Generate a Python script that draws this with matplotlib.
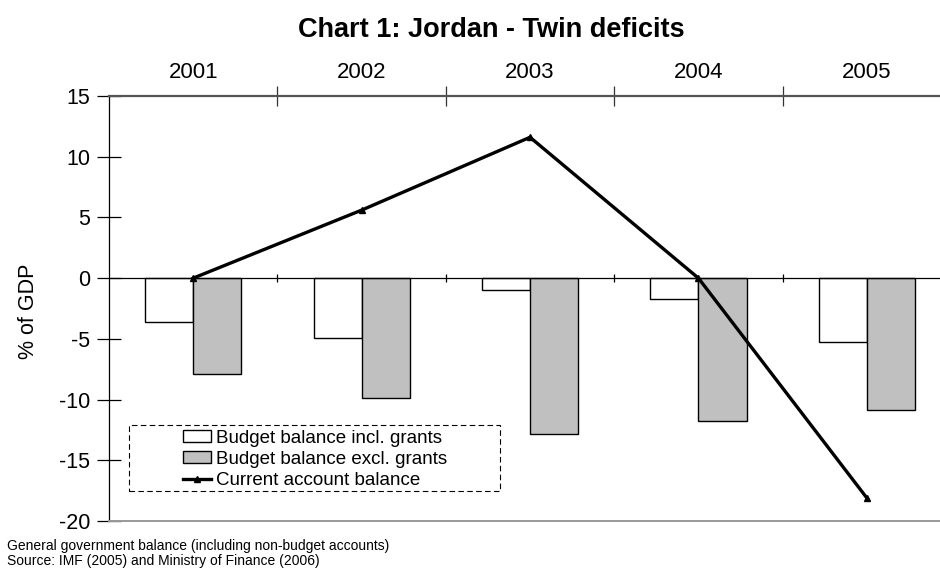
import matplotlib
matplotlib.use("Agg")
import matplotlib.pyplot as plt
import numpy as np
from matplotlib.patches import Rectangle, Patch
from matplotlib.lines import Line2D

plt.rcParams["font.family"] = ["Liberation Sans", "DejaVu Sans"]

years = ["2001", "2002", "2003", "2004", "2005"]
budget_incl = [-3.6, -4.9, -1.0, -1.7, -5.3]
budget_excl = [-7.9, -9.9, -12.8, -11.8, -10.9]
current_acc = [0.0, 5.6, 11.6, 0.0, -18.1]
y_ticks = [15, 10, 5, 0, -5, -10, -15, -20]

fig = plt.figure(figsize=(9.4, 5.69), dpi=100)
ax = fig.add_axes([0.116, 0.0844, 0.8957, 0.7469])

x = np.arange(len(years))
w = 0.2857
ax.bar(x - w / 2, budget_incl, w, color="white", edgecolor="black", linewidth=1.0, zorder=2)
ax.bar(x + w / 2, budget_excl, w, color="#c0c0c0", edgecolor="black", linewidth=1.0, zorder=2)
ax.axhline(0, color="black", linewidth=0.9, zorder=3)
# small tick marks on the zero line at category boundaries
ax.vlines(x[1:] - 0.5, -0.35, 0.35, color="black", linewidth=0.9, zorder=3)
ax.plot(x, current_acc, color="black", linewidth=2.4, marker="^", markersize=5, zorder=4)

ax.set_xlim(-0.5, len(years) - 0.5)
ax.set_ylim(-20, 15)
ax.set_yticks(y_ticks)
ax.set_yticklabels([str(v) for v in y_ticks], fontsize=15.5)
ax.tick_params(axis="y", direction="inout", length=17, width=0.9, pad=5)

ax.xaxis.tick_top()
ax.set_xticks(x[1:] - 0.5)
ax.set_xticklabels([])
ax.set_xticks(x, minor=True)
ax.set_xticklabels(years, minor=True, fontsize=16)
ax.tick_params(axis="x", which="major", direction="inout", length=15, width=0.9, colors="#333333")
ax.tick_params(axis="x", which="minor", length=0, pad=9)

ax.spines["right"].set_visible(False)
ax.spines["top"].set_color("#555555")
ax.spines["top"].set_linewidth(1.6)
ax.spines["bottom"].set_color("#999999")
ax.spines["bottom"].set_linewidth(1.4)
ax.spines["left"].set_color("black")
ax.spines["left"].set_linewidth(0.9)

# dashed legend frame
ax.add_patch(Rectangle((0.0238, 0.0706), 0.4406, 0.155, transform=ax.transAxes,
                       fill=False, linestyle=(0, (5, 3)), edgecolor="black", linewidth=0.8, zorder=5))
handles = [
    Patch(facecolor="white", edgecolor="black", linewidth=1.0),
    Patch(facecolor="#c0c0c0", edgecolor="black", linewidth=1.0),
    Line2D([0], [0], color="black", linewidth=2.4, marker="^", markersize=5),
]
labels = ["Budget balance incl. grants", "Budget balance excl. grants", "Current account balance"]
ax.legend(handles, labels, loc="center", bbox_to_anchor=(0.245, 0.145), frameon=False,
          fontsize=13.5, labelspacing=0.22, handlelength=1.5, handleheight=0.6, handletextpad=0.25,
          borderpad=0.1)

fig.text(0.523, 0.948, "Chart 1: Jordan - Twin deficits", fontsize=19.5, fontweight="bold",
         ha="center", va="center")
fig.text(0.030, 0.453, "% of GDP", fontsize=15.5, rotation=90, ha="center", va="center")
fig.text(0.007, 0.040, "General government balance (including non-budget accounts)", fontsize=10,
         ha="left", va="center")
fig.text(0.007, 0.014, "Source: IMF (2005) and Ministry of Finance (2006)", fontsize=10,
         ha="left", va="center")

fig.savefig("out.png", dpi=100)
